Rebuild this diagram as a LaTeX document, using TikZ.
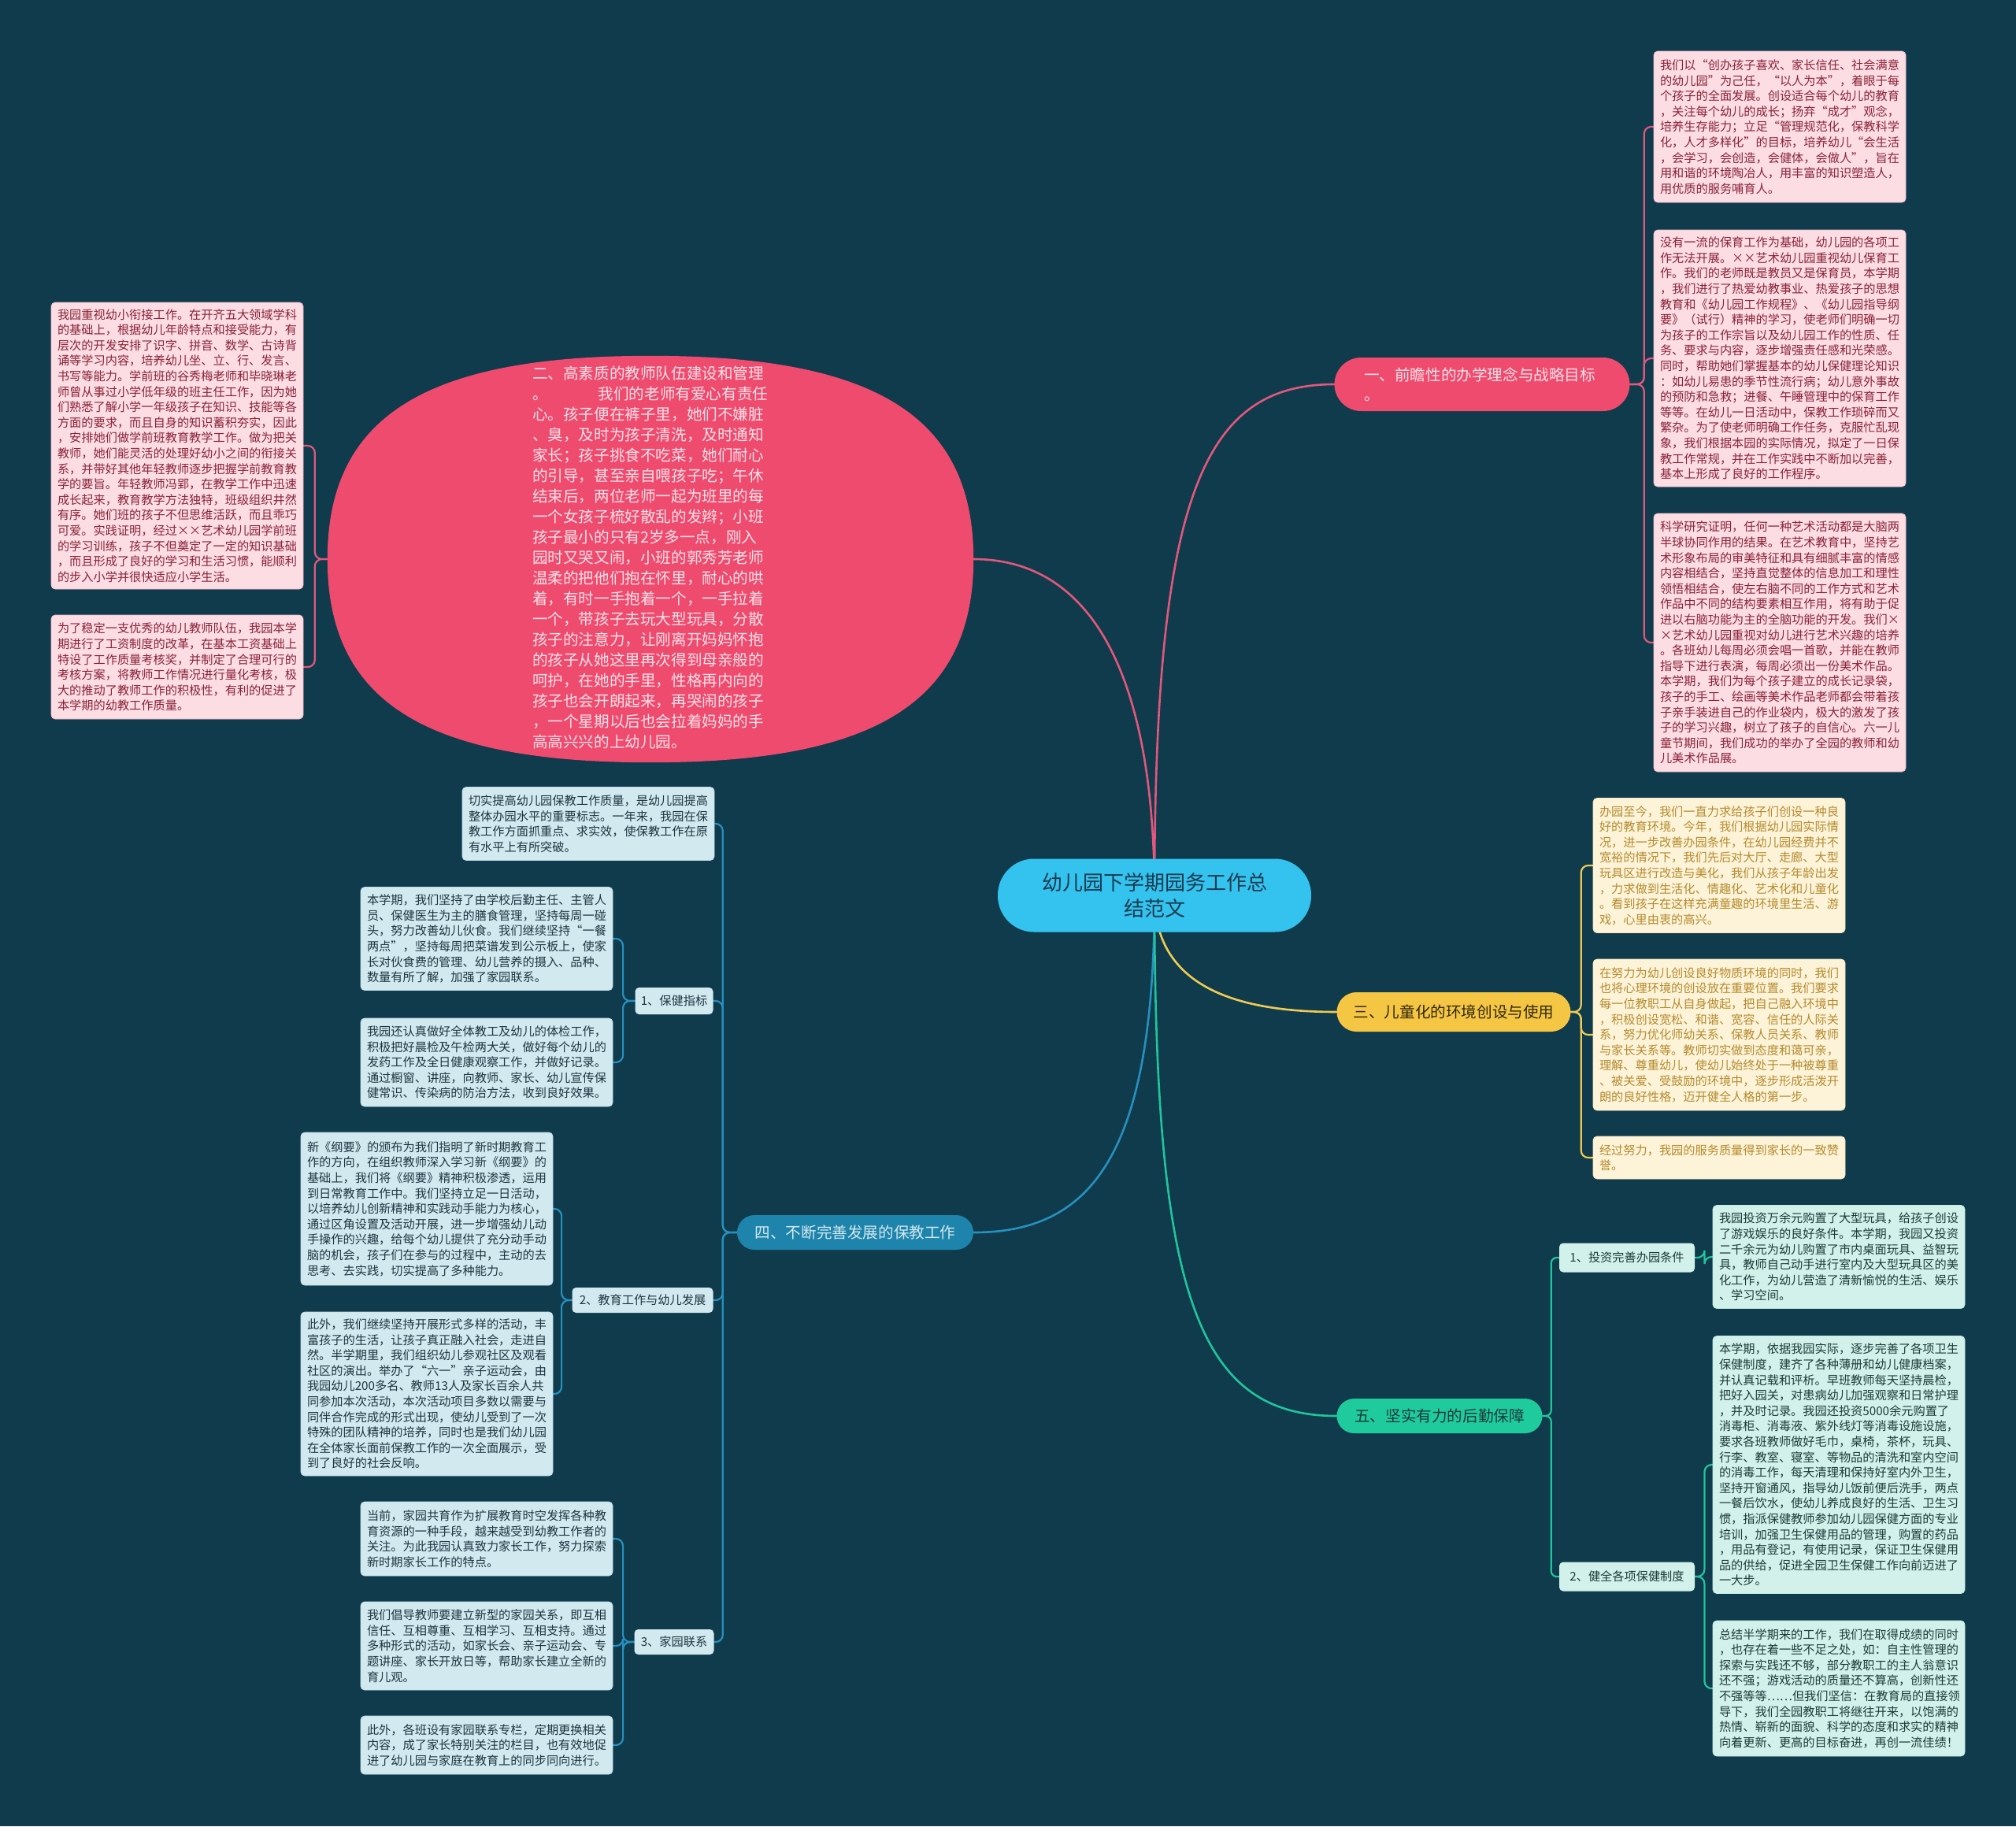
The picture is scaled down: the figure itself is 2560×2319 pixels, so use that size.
\documentclass[tikz,border=0pt]{standalone}
\usepackage{fontspec}
\setmainfont{Noto Sans CJK SC}
\definecolor{bgc}{HTML}{0F3B4C}
\definecolor{pinkmain}{HTML}{EE4B6F}
\definecolor{pinkline}{HTML}{E2587C}
\definecolor{pinkfill}{HTML}{FBDDE3}
\definecolor{pinktext}{HTML}{8A2238}
\definecolor{pinklt}{HTML}{FDE2E8}
\definecolor{yellowmain}{HTML}{F5C644}
\definecolor{yellowline}{HTML}{EFCB55}
\definecolor{yellowfill}{HTML}{FCF3D9}
\definecolor{yellowtext}{HTML}{B58B2D}
\definecolor{bluemain}{HTML}{1E84AB}
\definecolor{blueline}{HTML}{2790BE}
\definecolor{bluefill}{HTML}{D3E9F0}
\definecolor{bluetext}{HTML}{1E3540}
\definecolor{greenmain}{HTML}{1FCB9D}
\definecolor{greenline}{HTML}{22C49C}
\definecolor{greenfill}{HTML}{D2F1EB}
\definecolor{greentext}{HTML}{1D3A38}
\definecolor{ctrfill}{HTML}{33C3EE}
\definecolor{ctrtext}{HTML}{1B3A4F}
\pgfdeclarelayer{bgzero}
\pgfdeclarelayer{bglines}
\pgfsetlayers{bgzero,bglines,main}
\newcommand{\smallfs}{\fontsize{15.2}{19.6}\selectfont}
\newcommand{\midfs}{\fontsize{19.6}{26}\selectfont}
\tikzset{
  cbox/.style={rounded corners=5pt, inner xsep=8pt, inner ysep=0pt, align=left, anchor=center, text width=304pt, font=\smallfs, line width=0.8pt},
  pinkbox/.style={cbox, fill=pinkfill, draw=pinkline!40, text=pinktext},
  yellowbox/.style={cbox, fill=yellowfill, draw=yellowline!40, text=yellowtext},
  bluebox/.style={cbox, fill=bluefill, draw=blueline!30, text=bluetext},
  greenbox/.style={cbox, fill=greenfill, draw=greenline!30, text=greentext},
  lbl/.style={rounded corners=5pt, inner sep=0pt, align=center, anchor=center, font=\smallfs, line width=0.8pt},
  conn/.style={line width=2.6pt, line cap=round},
  brk/.style={line width=2.2pt, rounded corners=9pt, line cap=round},
}
\begin{document}
\begin{tikzpicture}[x=1pt,y=-1pt]
\useasboundingbox (0,0) rectangle (2560,2319);
\begin{pgfonlayer}{bgzero}
\fill[bgc] (0,0) rectangle (2560,2319);
\end{pgfonlayer}

% ---------- center ----------
\node[rounded corners=46pt, fill=ctrfill, text=ctrtext, minimum width=398pt, minimum height=93pt, align=center, font=\fontsize{26}{33}\selectfont, inner sep=0pt] (ctr) at (1466,1137) {幼儿园下学期园务工作总\\结范文};

% ---------- branch 1 ----------
\node[rounded corners=34pt, fill=pinkmain, text=pinklt, minimum height=68pt, text width=300pt, inner xsep=37.5pt, inner ysep=0pt, align=left, font=\fontsize{19.6}{25}\selectfont] (b1) at (1882,488) {一、前瞻性的办学理念与战略目标\\。};

\node[pinkbox, minimum height=192pt] (r1) at (2260,161) {我们以“创办孩子喜欢、家长信任、社会满意\\的幼儿园”为己任，“以人为本”，着眼于每\\个孩子的全面发展。创设适合每个幼儿的教育\\，关注每个幼儿的成长；扬弃“成才”观念，\\培养生存能力；立足“管理规范化，保教科学\\化，人才多样化”的目标，培养幼儿“会生活\\，会学习，会创造，会健体，会做人”，旨在\\用和谐的环境陶冶人，用丰富的知识塑造人，\\用优质的服务哺育人。};

\node[pinkbox, minimum height=326pt] (r2) at (2260,455) {没有一流的保育工作为基础，幼儿园的各项工\\作无法开展。××艺术幼儿园重视幼儿保育工\\作。我们的老师既是教员又是保育员，本学期\\，我们进行了热爱幼教事业、热爱孩子的思想\\教育和《幼儿园工作规程》、《幼儿园指导纲\\要》（试行）精神的学习，使老师们明确一切\\为孩子的工作宗旨以及幼儿园工作的性质、任\\务、要求与内容，逐步增强责任感和光荣感。\\同时，帮助她们掌握基本的幼儿保健理论知识\\：如幼儿易患的季节性流行病；幼儿意外事故\\的预防和急救；进餐、午睡管理中的保育工作\\等等。在幼儿一日活动中，保教工作琐碎而又\\繁杂。为了使老师明确工作任务，克服忙乱现\\象，我们根据本园的实际情况，拟定了一日保\\教工作常规，并在工作实践中不断加以完善，\\基本上形成了良好的工作程序。};

\node[pinkbox, minimum height=328pt] (r3) at (2260,816) {科学研究证明，任何一种艺术活动都是大脑两\\半球协同作用的结果。在艺术教育中，坚持艺\\术形象布局的审美特征和具有细腻丰富的情感\\内容相结合，坚持直觉整体的信息加工和理性\\领悟相结合，使左右脑不同的工作方式和艺术\\作品中不同的结构要素相互作用，将有助于促\\进以右脑功能为主的全脑功能的开发。我们×\\×艺术幼儿园重视对幼儿进行艺术兴趣的培养\\。各班幼儿每周必须会唱一首歌，并能在教师\\指导下进行表演，每周必须出一份美术作品。\\本学期，我们为每个孩子建立的成长记录袋，\\孩子的手工、绘画等美术作品老师都会带着孩\\子亲手装进自己的作业袋内，极大的激发了孩\\子的学习兴趣，树立了孩子的自信心。六一儿\\童节期间，我们成功的举办了全园的教师和幼\\儿美术作品展。};

% ---------- branch 2 (full oval) ----------
\node[rectangle, minimum width=820pt, minimum height=516pt, inner sep=0pt] (ell) at (826,710) {};
\fill[pinkmain] (ell.east) .. controls +(0,180.6) and +(287,0) .. (ell.south)
  .. controls +(-287,0) and +(0,180.6) .. (ell.west)
  .. controls +(0,-180.6) and +(-287,0) .. (ell.north)
  .. controls +(287,0) and +(0,-180.6) .. (ell.east) -- cycle;
\node[text=pinklt, text width=300pt, align=left, inner sep=0pt, font=\midfs] (elltext) at (826,708) {二、高素质的教师队伍建设和管理\\。\hspace{64pt}我们的老师有爱心有责任\\心。孩子便在裤子里，她们不嫌脏\\、臭，及时为孩子清洗，及时通知\\家长；孩子挑食不吃菜，她们耐心\\的引导，甚至亲自喂孩子吃；午休\\结束后，两位老师一起为班里的每\\一个女孩子梳好散乱的发辫；小班\\孩子最小的只有2岁多一点，刚入\\园时又哭又闹，小班的郭秀芳老师\\温柔的把他们抱在怀里，耐心的哄\\着，有时一手抱着一个，一手拉着\\一个，带孩子去玩大型玩具，分散\\孩子的注意力，让刚离开妈妈怀抱\\的孩子从她这里再次得到母亲般的\\呵护，在她的手里，性格再内向的\\孩子也会开朗起来，再哭闹的孩子\\，一个星期以后也会拉着妈妈的手\\高高兴兴的上幼儿园。};

\node[pinkbox, minimum height=364pt] (l1) at (225,566) {我园重视幼小衔接工作。在开齐五大领域学科\\的基础上，根据幼儿年龄特点和接受能力，有\\层次的开发安排了识字、拼音、数学、古诗背\\诵等学习内容，培养幼儿坐、立、行、发言、\\书写等能力。学前班的谷秀梅老师和毕晓琳老\\师曾从事过小学低年级的班主任工作，因为她\\们熟悉了解小学一年级孩子在知识、技能等各\\方面的要求，而且自身的知识蓄积夯实，因此\\，安排她们做学前班教育教学工作。做为把关\\教师，她们能灵活的处理好幼小之间的衔接关\\系，并带好其他年轻教师逐步把握学前教育教\\学的要旨。年轻教师冯郢，在教学工作中迅速\\成长起来，教育教学方法独特，班级组织井然\\有序。她们班的孩子不但思维活跃，而且乖巧\\可爱。实践证明，经过××艺术幼儿园学前班\\的学习训练，孩子不但奠定了一定的知识基础\\，而且形成了良好的学习和生活习惯，能顺利\\的步入小学并很快适应小学生活。};

\node[pinkbox, minimum height=132pt] (l2) at (225,847) {为了稳定一支优秀的幼儿教师队伍，我园本学\\期进行了工资制度的改革，在基本工资基础上\\特设了工作质量考核奖，并制定了合理可行的\\考核方案，将教师工作情况进行量化考核，极\\大的推动了教师工作的积极性，有利的促进了\\本学期的幼教工作质量。};

% ---------- branch 3 ----------
\node[rounded corners=25pt, fill=yellowmain, text=black!80!yellowmain, minimum width=297pt, minimum height=50pt, inner sep=0pt, font=\fontsize{19.6}{25}\selectfont] (b3) at (1846,1285) {三、儿童化的环境创设与使用};

\node[yellowbox, minimum height=171pt] (y1) at (2183,1099) {办园至今，我们一直力求给孩子们创设一种良\\好的教育环境。今年，我们根据幼儿园实际情\\况，进一步改善办园条件，在幼儿园经费并不\\宽裕的情况下，我们先后对大厅、走廊、大型\\玩具区进行改造与美化，我们从孩子年龄出发\\，力求做到生活化、情趣化、艺术化和儿童化\\。看到孩子在这样充满童趣的环境里生活、游\\戏，心里由衷的高兴。};

\node[yellowbox, minimum height=192pt] (y2) at (2183,1314) {在努力为幼儿创设良好物质环境的同时，我们\\也将心理环境的创设放在重要位置。我们要求\\每一位教职工从自身做起，把自己融入环境中\\，积极创设宽松、和谐、宽容、信任的人际关\\系，努力优化师幼关系、保教人员关系、教师\\与家长关系等。教师切实做到态度和蔼可亲，\\理解、尊重幼儿，使幼儿始终处于一种被尊重\\、被关爱、受鼓励的环境中，逐步形成活泼开\\朗的良好性格，迈开健全人格的第一步。};

\node[yellowbox, minimum height=54pt] (y3) at (2183,1470) {经过努力，我园的服务质量得到家长的一致赞\\誉。};

% ---------- branch 4 ----------
\node[rounded corners=22pt, fill=bluemain, text=bluefill, minimum width=300pt, minimum height=44pt, inner sep=0pt, font=\fontsize{19.6}{25}\selectfont] (b4) at (1086,1565) {四、不断完善发展的保教工作};

\node[bluebox, minimum height=93pt] (bx0) at (747,1046) {切实提高幼儿园保教工作质量，是幼儿园提高\\整体办园水平的重要标志。一年来，我园在保\\教工作方面抓重点、求实效，使保教工作在原\\有水平上有所突破。};

\node[lbl, fill=bluefill, text=bluetext, minimum width=99pt, minimum height=34pt] (lb1) at (856,1271) {1、保健指标};
\node[lbl, fill=bluefill, text=bluetext, minimum width=179pt, minimum height=32pt] (lb2) at (816,1651) {2、教育工作与幼儿发展};
\node[lbl, fill=bluefill, text=bluetext, minimum width=101pt, minimum height=32pt] (lb3) at (856,2085) {3、家园联系};

\node[bluebox, minimum height=131pt] (bb1) at (618,1192) {本学期，我们坚持了由学校后勤主任、主管人\\员、保健医生为主的膳食管理，坚持每周一碰\\头，努力改善幼儿伙食。我们继续坚持“一餐\\两点”，坚持每周把菜谱发到公示板上，使家\\长对伙食费的管理、幼儿营养的摄入、品种、\\数量有所了解，加强了家园联系。};

\node[bluebox, minimum height=112pt] (bb2) at (618,1349) {我园还认真做好全体教工及幼儿的体检工作，\\积极把好晨检及午检两大关，做好每个幼儿的\\发药工作及全日健康观察工作，并做好记录。\\通过橱窗、讲座，向教师、家长、幼儿宣传保\\健常识、传染病的防治方法，收到良好效果。};

\node[bluebox, minimum height=194pt] (ee1) at (542,1535) {新《纲要》的颁布为我们指明了新时期教育工\\作的方向，在组织教师深入学习新《纲要》的\\基础上，我们将《纲要》精神积极渗透，运用\\到日常教育工作中。我们坚持立足一日活动，\\以培养幼儿创新精神和实践动手能力为核心，\\通过区角设置及活动开展，进一步增强幼儿动\\手操作的兴趣，给每个幼儿提供了充分动手动\\脑的机会，孩子们在参与的过程中，主动的去\\思考、去实践，切实提高了多种能力。};

\node[bluebox, minimum height=208pt] (ee2) at (542,1770) {此外，我们继续坚持开展形式多样的活动，丰\\富孩子的生活，让孩子真正融入社会，走进自\\然。半学期里，我们组织幼儿参观社区及观看\\社区的演出。举办了“六一”亲子运动会，由\\我园幼儿200多名、教师13人及家长百余人共\\同参加本次活动，本次活动项目多数以需要与\\同伴合作完成的形式出现，使幼儿受到了一次\\特殊的团队精神的培养，同时也是我们幼儿园\\在全体家长面前保教工作的一次全面展示，受\\到了良好的社会反响。};

\node[bluebox, minimum height=94pt] (hh1) at (618,1954) {当前，家园共育作为扩展教育时空发挥各种教\\育资源的一种手段，越来越受到幼教工作者的\\关注。为此我园认真致力家长工作，努力探索\\新时期家长工作的特点。};

\node[bluebox, minimum height=112pt] (hh2) at (618,2090) {我们倡导教师要建立新型的家园关系，即互相\\信任、互相尊重、互相学习、互相支持。通过\\多种形式的活动，如家长会、亲子运动会、专\\题讲座、家长开放日等，帮助家长建立全新的\\育儿观。};

\node[bluebox, minimum height=74pt] (hh3) at (618,2216) {此外，各班设有家园联系专栏，定期更换相关\\内容，成了家长特别关注的栏目，也有效地促\\进了幼儿园与家庭在教育上的同步同向进行。};

% ---------- branch 5 ----------
\node[rounded corners=22pt, fill=greenmain, text=greentext, minimum width=261pt, minimum height=44pt, inner sep=0pt, font=\fontsize{19.6}{25}\selectfont] (b5) at (1828,1798) {五、坚实有力的后勤保障};

\node[lbl, fill=greenfill, text=greentext, minimum width=172pt, minimum height=37pt] (lg1) at (2066,1597) {1、投资完善办园条件};
\node[lbl, fill=greenfill, text=greentext, minimum width=172pt, minimum height=37pt] (lg2) at (2066,2002) {2、健全各项保健制度};

\node[greenbox, minimum height=131pt] (g1) at (2335,1596) {我园投资万余元购置了大型玩具，给孩子创设\\了游戏娱乐的良好条件。本学期，我园又投资\\二千余元为幼儿购置了市内桌面玩具、益智玩\\具，教师自己动手进行室内及大型玩具区的美\\化工作，为幼儿营造了清新愉悦的生活、娱乐\\、学习空间。};

\node[greenbox, minimum height=327pt] (k1) at (2335,1860) {本学期，依据我园实际，逐步完善了各项卫生\\保健制度，建齐了各种薄册和幼儿健康档案，\\并认真记载和评析。早班教师每天坚持晨检，\\把好入园关，对患病幼儿加强观察和日常护理\\，并及时记录。我园还投资5000余元购置了\\消毒柜、消毒液、紫外线灯等消毒设施设施，\\要求各班教师做好毛巾，桌椅，茶杯，玩具、\\行李、教室、寝室、等物品的清洗和室内空间\\的消毒工作，每天清理和保持好室内外卫生，\\坚持开窗通风，指导幼儿饭前便后洗手，两点\\一餐后饮水，使幼儿养成良好的生活、卫生习\\惯，指派保健教师参加幼儿园保健方面的专业\\培训，加强卫生保健用品的管理，购置的药品\\，用品有登记，有使用记录，保证卫生保健用\\品的供给，促进全园卫生保健工作向前迈进了\\一大步。};

\node[greenbox, minimum height=172pt] (k2) at (2335,2144) {总结半学期来的工作，我们在取得成绩的同时\\，也存在着一些不足之处，如：自主性管理的\\探索与实践还不够，部分教职工的主人翁意识\\还不强；游戏活动的质量还不算高，创新性还\\不强等等……但我们坚信：在教育局的直接领\\导下，我们全园教职工将继往开来，以饱满的\\热情、崭新的面貌、科学的态度和求实的精神\\向着更新、更高的目标奋进，再创一流佳绩！};

% ---------- connectors ----------
\begin{pgfonlayer}{bglines}
\draw[conn, pinkline] (ctr.center) .. controls +(0,-500) and +(-170,0) .. (b1.west);
\draw[conn, pinkline] (ctr.center) .. controls +(0,-280) and +(150,0) .. (ell.east);
\draw[conn, yellowline] (ctr.center) .. controls +(0,120) and +(-120,0) .. (b3.west);
\draw[conn, blueline] (ctr.center) .. controls +(0,330) and +(150,0) .. (b4.east);
\draw[conn, greenline] (ctr.center) .. controls +(0,500) and +(-180,0) .. (b5.west);

\foreach \t in {r1,r2,r3} \draw[brk, pinkline] (b1.east) -- ++(18,0) |- (\t.west);
\foreach \t in {l1,l2} \draw[brk, pinkline] (ell.west) -- ++(-16,0) |- (\t.east);
\foreach \t in {y1,y2,y3} \draw[brk, yellowline] (b3.east) -- ++(13,0) |- (\t.west);
\foreach \t in {bx0,lb1,lb2,lb3} \draw[brk, blueline] (b4.west) -- ++(-18,0) |- (\t.east);
\foreach \t in {bb1,bb2} \draw[brk, blueline] (lb1.west) -- ++(-15,0) |- (\t.east);
\foreach \t in {ee1,ee2} \draw[brk, blueline] (lb2.west) -- ++(-13,0) |- (\t.east);
\foreach \t in {hh1,hh2,hh3} \draw[brk, blueline] (lb3.west) -- ++(-14,0) |- (\t.east);
\foreach \t in {lg1,lg2} \draw[brk, greenline, rounded corners=7pt] (b5.east) -- ++(11,0) |- (\t.west);
\draw[brk, greenline] (lg1.east) -- ++(12,0) |- (g1.west);
\foreach \t in {k1,k2} \draw[brk, greenline] (lg2.east) -- ++(12,0) |- (\t.west);
\end{pgfonlayer}
\end{tikzpicture}
\end{document}
